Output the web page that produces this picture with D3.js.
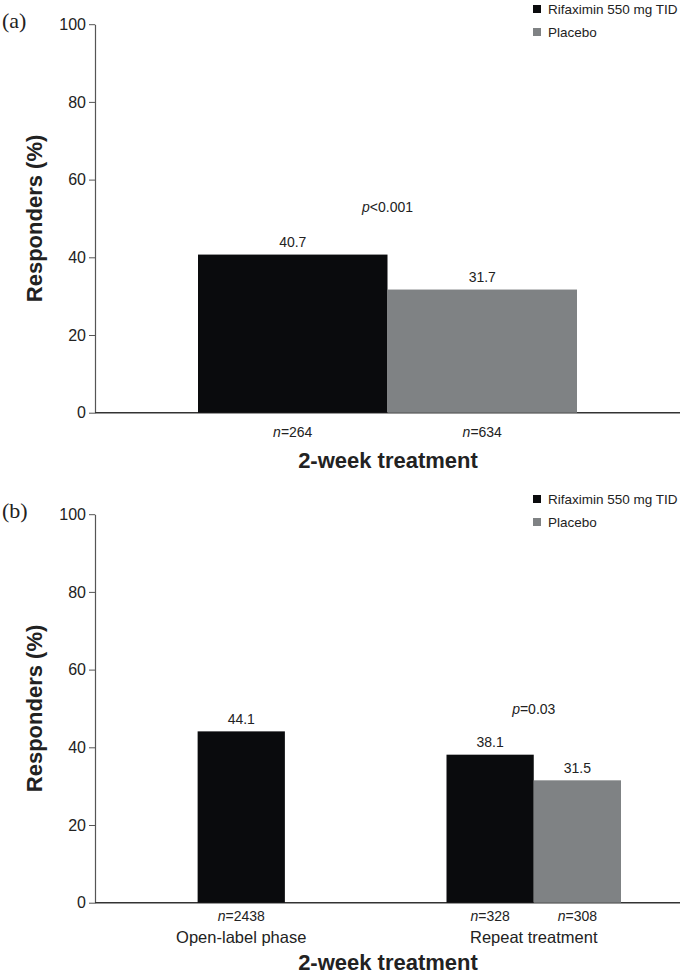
<!DOCTYPE html>
<html><head><meta charset="utf-8">
<script src="https://cdn.jsdelivr.net/npm/d3@7"></script>
<style>body{margin:0;background:#fff}svg{display:block}</style>
</head><body><svg id="c" width="683" height="974"></svg>
<script>
// Panel (a)
const aCategories = ["2-week"];
const aSeries = ["Rifaximin 550 mg TID", "Placebo"];
const aValues = [[40.7, 31.7]];
const aN = [["264", "634"]];
const aP = ["<0.001"];
// Panel (b)
const bCategories = ["Open-label phase", "Repeat treatment"];
const bValues = [[44.1], [38.1, 31.5]];
const bN = [["2438"], ["328", "308"]];
const bP = [null, "=0.03"];
const yTicks = [0, 20, 40, 60, 80, 100];
const colors = ["#0a0b0d", "#7f8284"];

const SANS = "'Liberation Sans', Arial, sans-serif";
const svg = d3.select("#c").style("font-family", SANS);

function panel(opt) {
  const g = svg.append("g");
  const x = d3.scaleBand().domain(opt.categories).range([95, 680]).padding(0);
  const y = d3.scaleLinear().domain([0, 100]).range([opt.y0, opt.y0 - 388.5]);
  const ya = g.append("g").attr("transform", "translate(95,0)")
    .call(d3.axisLeft(y).tickValues(yTicks).tickSize(6).tickPadding(3).tickSizeOuter(0));
  ya.attr("font-family", null);
  ya.select(".domain").attr("stroke", "#555").attr("stroke-width", 1.2);
  ya.selectAll(".tick line").attr("stroke", "#555");
  ya.selectAll(".tick text").attr("font-size", 16).attr("fill", "#222").style("font-family", SANS);
  g.append("line").attr("x1", 95).attr("x2", 680).attr("y1", y(0)).attr("y2", y(0))
    .attr("stroke", "#333").attr("stroke-width", 1.4);
  opt.categories.forEach((c, i) => {
    const vals = opt.values[i];
    const inner = d3.scaleBand().domain(d3.range(2)).range([x(c) + opt.inPad, x(c) + x.bandwidth() - opt.inPad]);
    const nb = vals.length;
    vals.forEach((v, j) => {
      const bx = nb === 2 ? inner(j) : x(c) + x.bandwidth() / 2 - inner.bandwidth() / 2;
      const cx = bx + inner.bandwidth() / 2;
      g.append("rect").attr("x", bx).attr("y", y(v)).attr("width", inner.bandwidth())
        .attr("height", y(0) - y(v)).attr("fill", colors[j]);
      g.append("text").attr("x", cx).attr("y", y(v) - 7.5).attr("text-anchor", "middle")
        .attr("font-size", 14).attr("fill", "#222").text(v.toFixed(1));
      const nt = g.append("text").attr("x", cx).attr("y", y(0) + opt.nOff).attr("text-anchor", "middle")
        .attr("font-size", 14).attr("fill", "#222");
      nt.append("tspan").attr("font-style", "italic").text("n");
      nt.append("tspan").text("=" + opt.n[i][j]);
    });
    if (opt.p[i]) {
      const pv = d3.max(vals);
      const pt = g.append("text").attr("x", x(c) + x.bandwidth() / 2).attr("y", y(pv) - opt.pOff)
        .attr("text-anchor", "middle").attr("font-size", 14).attr("fill", "#222");
      pt.append("tspan").attr("font-style", "italic").text("p");
      pt.append("tspan").text(opt.p[i]);
    }
    if (opt.showCat) {
      g.append("text").attr("x", x(c) + x.bandwidth() / 2).attr("y", y(0) + 40)
        .attr("text-anchor", "middle").attr("font-size", 16.5).attr("fill", "#222").text(c);
    }
  });
  g.append("text").attr("x", 388).attr("y", y(0) + opt.xTitleOff).attr("text-anchor", "middle")
    .attr("font-size", 22).attr("font-weight", "bold").attr("fill", "#222").text("2-week treatment");
  g.append("text").attr("transform", `translate(42,${(y(0) + y(100)) / 2}) rotate(-90)`)
    .attr("text-anchor", "middle").attr("font-size", 22).attr("font-weight", "bold").attr("fill", "#222")
    .text("Responders (%)");
  g.append("text").attr("x", 2).attr("y", y(100) + 4).attr("font-size", 22)
    .style("font-family", "'Liberation Serif', 'Times New Roman', serif").attr("fill", "#222").text(opt.label);
  aSeries.forEach((s, j) => {
    const ly = opt.legY + j * 23;
    g.append("rect").attr("x", 533).attr("y", ly - 4).attr("width", 8).attr("height", 8).attr("fill", colors[j]);
    g.append("text").attr("x", 548).attr("y", ly + 4.5).attr("font-size", 13.5).attr("fill", "#222").text(s);
  });
}

panel({categories: aCategories, values: aValues, n: aN, p: aP, y0: 412.7, inPad: 103, pOff: 43, nOff: 24,
  showCat: false, xTitleOff: 55, label: "(a)", legY: 9});
panel({categories: bCategories, values: bValues, n: bN, p: bP, y0: 902.7, inPad: 59, pOff: 41, nOff: 18.5,
  showCat: true, xTitleOff: 67, label: "(b)", legY: 499});
</script></body></html>
